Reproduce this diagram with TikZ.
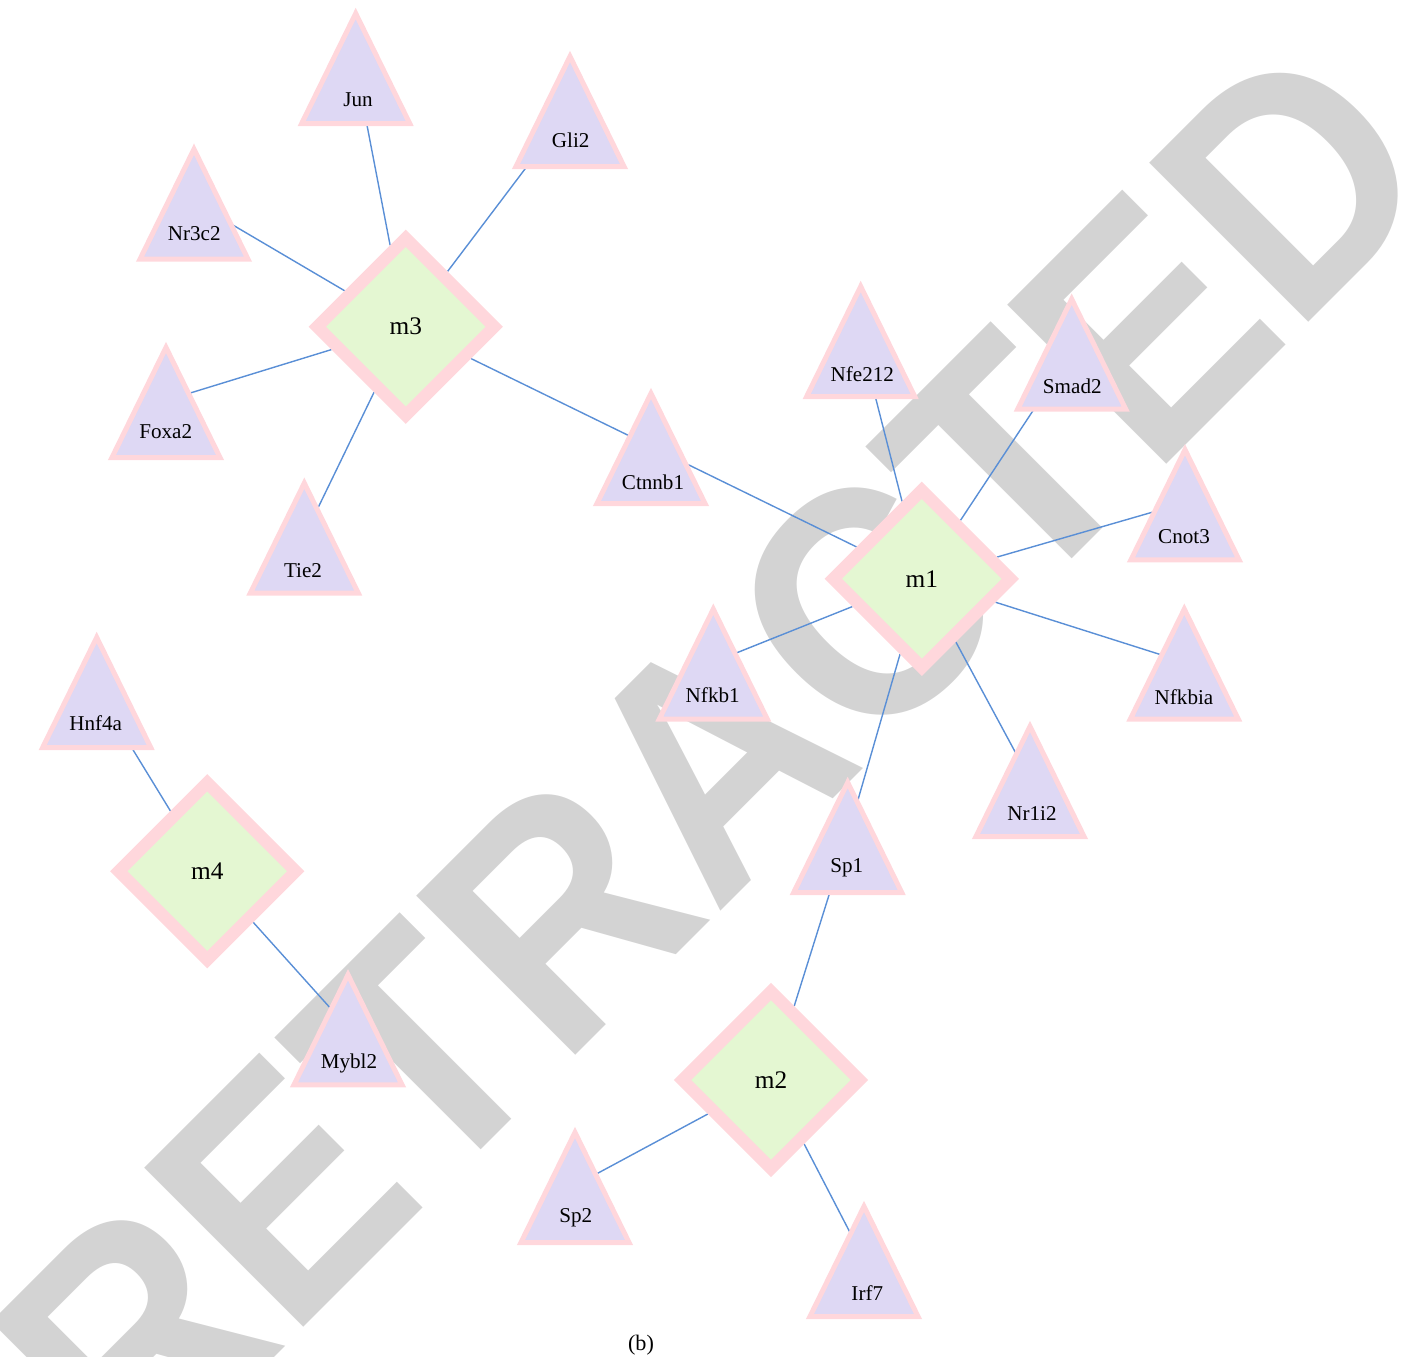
\documentclass[tikz,border=0pt]{standalone}
\usepackage{fontspec}
\setmainfont{Liberation Serif}
\newfontfamily\stampfont{Liberation Sans}
\usetikzlibrary{shapes.geometric,calc}
\definecolor{genefill}{HTML}{DED8F4}
\definecolor{rimpink}{HTML}{FFD7DC}
\definecolor{modfill}{HTML}{E4F7D2}
\definecolor{linkblue}{HTML}{5A8FD6}
\definecolor{stampgray}{HTML}{D3D3D3}
\pgfdeclarelayer{back}
\pgfdeclarelayer{wires}
\pgfsetlayers{back,wires,main}

\begin{document}
\begin{tikzpicture}[
  x=0.01cm, y=-0.01cm,
  gene/.style={isosceles triangle, isosceles triangle stretches, shape border rotate=90,
               minimum width=1.08cm, minimum height=1.10cm, inner sep=0pt,
               draw=rimpink, fill=genefill, line width=0.05cm, anchor=lower side},
  lbl/.style={font=\fontsize{6}{7}\selectfont, anchor=base, inner sep=0pt},
  module/.style={diamond, aspect=1, minimum width=1.82cm, minimum height=1.82cm, inner sep=0pt,
                 draw=rimpink, fill=modfill, line width=0.122cm, font=\fontsize{7.2}{8}\selectfont},
  edge/.style={draw=linkblue, line width=0.4pt},
  stamp/.style={text=stampgray, font=\stampfont\bfseries\fontsize{93}{93}\selectfont,
                inner sep=0pt, rotate=45, xscale=0.92}
]
  \useasboundingbox (0,0) rectangle (1405,1356);

  % watermark
  \begin{pgfonlayer}{back}
    \clip (0,0) rectangle (1405,1356);
    \node[stamp] (stamp) at (712.4,759.6) {RETRACTED};
  \end{pgfonlayer}

  % modules
  \node[module] (m3) at (405.8,326.7) {m3};
  \node[module] (m1) at (921.8,578.8) {m1};
  \node[module] (m2) at (771,1080) {m2};
  \node[module] (m4) at (207.3,871.2) {m4};

  % genes (placed by base midpoint)
  \node[gene] (jun) at (355.7,126) {};
  \node[lbl] (jun-l) at (358,106) {Jun};
  \node[gene] (gli2) at (570,169) {};
  \node[lbl] (gli2-l) at (570.7,147.3) {Gli2};
  \node[gene] (nr3c2) at (194,261.7) {};
  \node[lbl] (nr3c2-l) at (194.3,240) {Nr3c2};
  \node[gene] (foxa2) at (166,460) {};
  \node[lbl] (foxa2-l) at (165.7,438.3) {Foxa2};
  \node[gene] (tie2) at (304.3,595.7) {};
  \node[lbl] (tie2-l) at (303,577.3) {Tie2};
  \node[gene] (ctnnb1) at (651,506) {};
  \node[lbl] (ctnnb1-l) at (653,489) {Ctnnb1};
  \node[gene] (nfe212) at (860.7,399) {};
  \node[lbl] (nfe212-l) at (862.3,381.7) {Nfe212};
  \node[gene] (smad2) at (1071.7,411.7) {};
  \node[lbl] (smad2-l) at (1072.3,393.3) {Smad2};
  \node[gene] (cnot3) at (1185,562.3) {};
  \node[lbl] (cnot3-l) at (1184,543.3) {Cnot3};
  \node[gene] (nfkbia) at (1184.3,721.7) {};
  \node[lbl] (nfkbia-l) at (1184,704) {Nfkbia};
  \node[gene] (nfkb1) at (713.3,721.7) {};
  \node[lbl] (nfkb1-l) at (712.7,702.7) {Nfkb1};
  \node[gene] (nr1i2) at (1030,839) {};
  \node[lbl] (nr1i2-l) at (1032,820) {Nr1i2};
  \node[gene] (sp1) at (847.7,895) {};
  \node[lbl] (sp1-l) at (846.7,872.7) {Sp1};
  \node[gene] (hnf4a) at (96.7,750) {};
  \node[lbl] (hnf4a-l) at (95.7,730) {Hnf4a};
  \node[gene] (mybl2) at (348,1087.3) {};
  \node[lbl] (mybl2-l) at (349,1068.3) {Mybl2};
  \node[gene] (sp2) at (575,1245) {};
  \node[lbl] (sp2-l) at (575.7,1222.7) {Sp2};
  \node[gene] (irf7) at (864,1319) {};
  \node[lbl] (irf7-l) at (867.3,1300) {Irf7};

  % links, aimed at the middle of each triangle
  \begin{pgfonlayer}{wires}
    \draw[edge] (m3) -- ($(jun.apex)!.5!(jun.lower side)$);
    \draw[edge] (m3) -- ($(gli2.apex)!.5!(gli2.lower side)$);
    \draw[edge] (m3) -- ($(nr3c2.apex)!.5!(nr3c2.lower side)$);
    \draw[edge] (m3) -- ($(foxa2.apex)!.5!(foxa2.lower side)$);
    \draw[edge] (m3) -- ($(tie2.apex)!.5!(tie2.lower side)$);
    \draw[edge] (m3) -- ($(ctnnb1.apex)!.5!(ctnnb1.lower side)$);
    \draw[edge] (m1) -- ($(ctnnb1.apex)!.5!(ctnnb1.lower side)$);
    \draw[edge] (m1) -- ($(nfe212.apex)!.5!(nfe212.lower side)$);
    \draw[edge] (m1) -- ($(smad2.apex)!.5!(smad2.lower side)$);
    \draw[edge] (m1) -- ($(cnot3.apex)!.5!(cnot3.lower side)$);
    \draw[edge] (m1) -- ($(nfkbia.apex)!.5!(nfkbia.lower side)$);
    \draw[edge] (m1) -- ($(nr1i2.apex)!.5!(nr1i2.lower side)$);
    \draw[edge] (m1) -- ($(sp1.apex)!.5!(sp1.lower side)$);
    \draw[edge] (m1) -- ($(nfkb1.apex)!.5!(nfkb1.lower side)$);
    \draw[edge] (m2) -- ($(sp1.apex)!.5!(sp1.lower side)$);
    \draw[edge] (m2) -- ($(sp2.apex)!.5!(sp2.lower side)$);
    \draw[edge] (m2) -- ($(irf7.apex)!.5!(irf7.lower side)$);
    \draw[edge] (m4) -- ($(hnf4a.apex)!.5!(hnf4a.lower side)$);
    \draw[edge] (m4) -- ($(mybl2.apex)!.5!(mybl2.lower side)$);
  \end{pgfonlayer}

  \node[font=\fontsize{6.3}{7}\selectfont] (cap) at (641,1345) {(b)};
\end{tikzpicture}
\end{document}
